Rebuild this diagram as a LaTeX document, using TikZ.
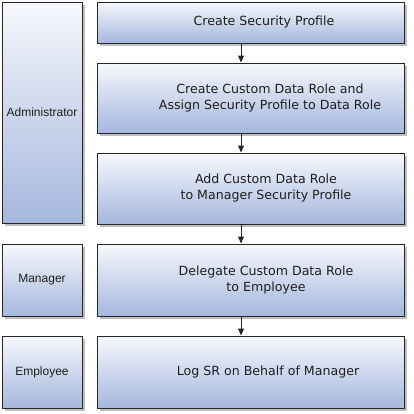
\documentclass[tikz,border=0pt]{standalone}
\usepackage{fontspec}
\setmainfont{DejaVu Sans}
\newfontfamily\rolefont{Liberation Sans}
\usetikzlibrary{arrows.meta}
\usetikzlibrary{shadows}

\definecolor{boxtop}{HTML}{F6F8FC}
\definecolor{boxbottom}{HTML}{A5B7DE}
\definecolor{boxline}{HTML}{262626}
\definecolor{labelgray}{HTML}{1E1E1E}

\tikzset{
  shadedbox/.style={draw=boxline, line width=1pt, top color=boxtop, bottom color=boxbottom,
    drop shadow={shadow xshift=3pt, shadow yshift=-3pt, fill=black!25, opacity=1}},
  rolebox/.style={shadedbox, minimum width=80pt, inner sep=0pt, text=labelgray,
    font=\rolefont\fontsize{12}{14}\selectfont},
  stepbox/.style={shadedbox, minimum width=307pt, inner sep=0pt},
  steptext/.style={align=center, inner sep=0pt, text=labelgray,
    font=\fontsize{12.6}{16}\selectfont},
  flow/.style={line width=1pt, draw=boxline, -{Triangle[length=7pt,width=6pt]}}
}

\begin{document}
\begin{tikzpicture}[x=1pt, y=-1pt]
        \useasboundingbox (0,0) rectangle (414,413);

        % Roles
        \node[rolebox, minimum height=221pt] (admin) at (42,112.5) {Administrator};
        \node[rolebox, minimum height=72pt] (manager) at (42,280) {Manager};
        \node[rolebox, minimum height=72pt] (employee) at (42,372) {Employee};

        % Steps
        \node[stepbox, minimum height=41pt] (s1) at (250.5,22.5) {};
        \node[stepbox, minimum height=70pt] (s2) at (250.5,98) {};
        \node[stepbox, minimum height=71pt] (s3) at (250.5,188.5) {};
        \node[stepbox, minimum height=72pt] (s4) at (250.5,280) {};
        \node[stepbox, minimum height=72pt] (s5) at (250.5,372) {};

        % Labels
        \node[steptext] (t1) at (264,22.5) {Create Security Profile};
        \node[steptext] (t2) at (270,98) {Create Custom Data Role and\\Assign Security Profile to Data Role};
        \node[steptext] (t3) at (266,188.5) {Add Custom Data Role\\to Manager Security Profile};
        \node[steptext] (t4) at (266,280) {Delegate Custom Data Role\\to Employee};
        \node[steptext] (t5) at (268,372) {Log SR on Behalf of Manager};

        % Arrows
        \draw[flow] ([xshift=-9.5pt]s1.south) -- ([xshift=-9.5pt]s2.north);
        \draw[flow] ([xshift=-9.5pt]s2.south) -- ([xshift=-9.5pt]s3.north);
        \draw[flow] ([xshift=-9.5pt]s3.south) -- ([xshift=-9.5pt]s4.north);
        \draw[flow] ([xshift=-9.5pt]s4.south) -- ([xshift=-9.5pt]s5.north);
    \end{tikzpicture}
\end{document}
